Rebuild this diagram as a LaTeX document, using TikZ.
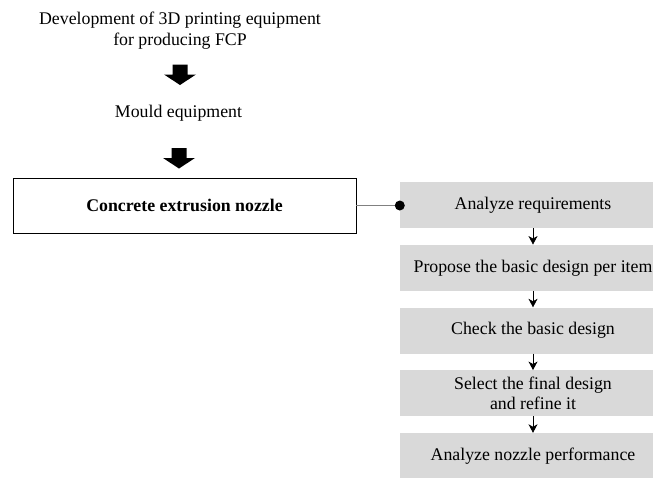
\documentclass[tikz,border=0pt]{standalone}
\usepackage{fontspec}
\setmainfont{Liberation Serif}
\usetikzlibrary{arrows.meta,positioning}
\definecolor{StepFill}{HTML}{D9D9D9}
\definecolor{LinkGrey}{HTML}{808080}
\tikzset{>=Stealth,every node/.style={font=\fontsize{17.8}{20.5}\selectfont},
 mainbox/.style={draw=black,line width=.8pt,minimum width=343pt,minimum height=55pt,
 font=\fontsize{17.8}{20.5}\selectfont\bfseries},
 stepbox/.style={fill=StepFill,minimum width=266pt,minimum height=46pt,align=center,inner sep=0pt},
 downarrow/.pic={\fill[black] (-7.5,0)--++(15,0)--++(0,10)--++(8.5,0)--++(-16,10.5)--++(-16,-10.5)--++(8.5,0)--cycle;},
 every edge/.style={draw=black,line width=.7pt,-{Stealth[length=8.5pt,width=9pt,inset=2.5pt]}}}
\begin{document}
\begin{tikzpicture}[x=1pt,y=-1pt]
\useasboundingbox (0,0) rectangle (653,477);
\clip (0,0) rectangle (653,477);
\node[align=center] (dev) at (180,30.5) {Development of 3D printing equipment\\for producing FCP};
\pic at (180,64.5) {downarrow};
\node[anchor=base] (mould) at (178.5,117) {Mould equipment};
\pic at (179,148) {downarrow};
\node[mainbox] (nozzle) at (184.5,205.5) {Concrete extrusion nozzle};
% design steps
\node[stepbox] (s1) at (533,205) {Analyze requirements};
\node[stepbox] (s2) at (533,267.75) {Propose the basic design per item};
\node[stepbox] (s3) at (533,330.5) {Check the basic design};
\node[stepbox] (s4) at (533,393.25) {Select the final design\\and refine it};
\node[stepbox] (s5) at (533,456) {Analyze nozzle performance};
\foreach \a/\b in {s1/s2,s2/s3,s3/s4,s4/s5}\draw (\a) edge (\b);
\draw[LinkGrey,line width=.8pt] (nozzle.east) -- (nozzle.east -| s1.west);
\fill[black] (nozzle.east -| s1.west) circle (5);
\end{tikzpicture}
\end{document}
